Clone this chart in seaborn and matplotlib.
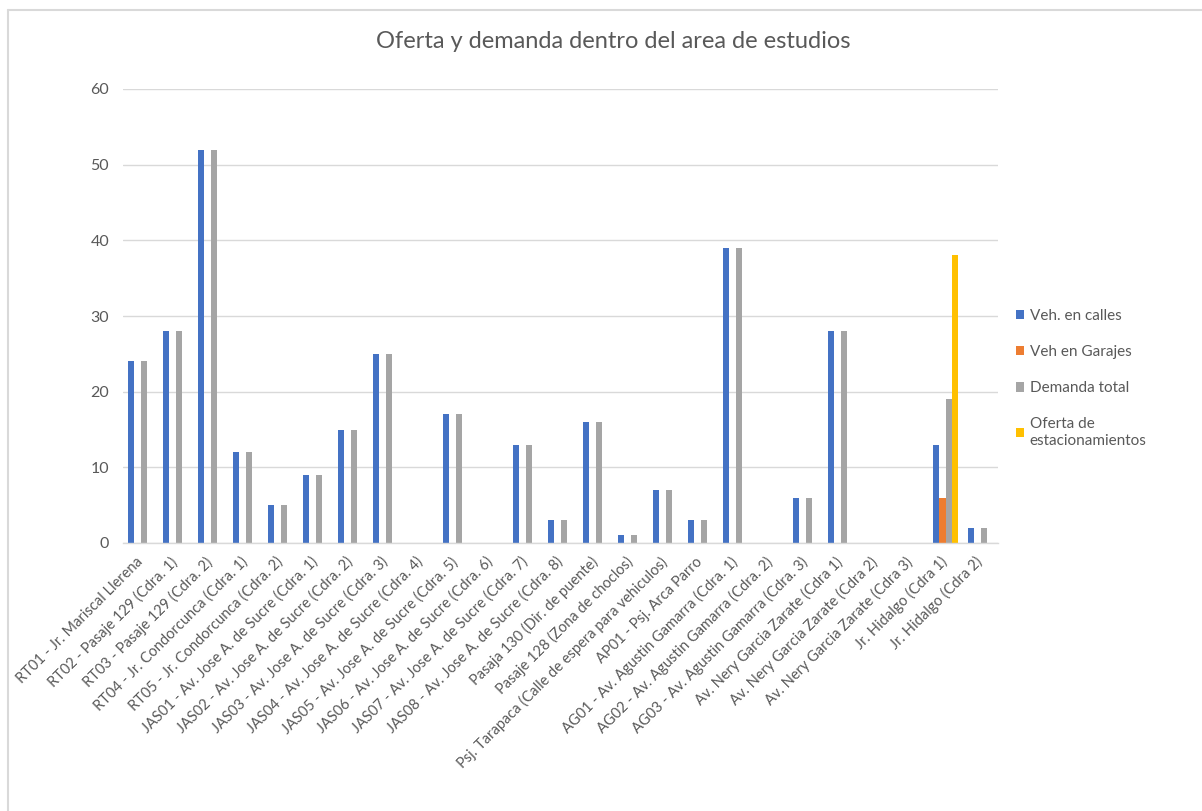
import matplotlib
matplotlib.use("Agg")
import matplotlib.pyplot as plt
from matplotlib.lines import Line2D
import seaborn as sns
import pandas as pd

# Street segments of the study area
categorias = [
    "RT01 - Jr. Mariscal Llerena",
    "RT02 - Pasaje 129 (Cdra. 1)",
    "RT03 - Pasaje 129 (Cdra. 2)",
    "RT04 - Jr. Condorcunca (Cdra. 1)",
    "RT05 - Jr. Condorcunca (Cdra. 2)",
    "JAS01 - Av. Jose A. de Sucre (Cdra. 1)",
    "JAS02 - Av. Jose A. de Sucre (Cdra. 2)",
    "JAS03 - Av. Jose A. de Sucre (Cdra. 3)",
    "JAS04 - Av. Jose A. de Sucre (Cdra. 4)",
    "JAS05 - Av. Jose A. de Sucre (Cdra. 5)",
    "JAS06 - Av. Jose A. de Sucre (Cdra. 6)",
    "JAS07 - Av. Jose A. de Sucre (Cdra. 7)",
    "JAS08 - Av. Jose A. de Sucre (Cdra. 8)",
    "Pasaja 130 (Dir. de puente)",
    "Pasaje 128 (Zona de choclos)",
    "Psj. Tarapaca (Calle de espera para vehiculos)",
    "AP01 - Psj. Arca Parro",
    "AG01 - Av. Agustin Gamarra (Cdra. 1)",
    "AG02 - Av. Agustin Gamarra (Cdra. 2)",
    "AG03 - Av. Agustin Gamarra (Cdra. 3)",
    "Av. Nery Garcia Zarate (Cdra 1)",
    "Av. Nery Garcia Zarate (Cdra 2)",
    "Av. Nery Garcia Zarate (Cdra 3)",
    "Jr. Hidalgo (Cdra 1)",
    "Jr. Hidalgo (Cdra 2)",
]

series = ["Veh. en calles", "Veh en Garajes", "Demanda total",
          "Oferta de\nestacionamientos"]

veh_calles = [24, 28, 52, 12, 5, 9, 15, 25, 0, 17, 0, 13, 3, 16, 1, 7, 3,
              39, 0, 6, 28, 0, 0, 13, 2]
veh_garajes = [0, 0, 0, 0, 0, 0, 0, 0, 0, 0, 0, 0, 0, 0, 0, 0, 0,
               0, 0, 0, 0, 0, 0, 6, 0]
demanda_total = [24, 28, 52, 12, 5, 9, 15, 25, 0, 17, 0, 13, 3, 16, 1, 7, 3,
                 39, 0, 6, 28, 0, 0, 19, 2]
oferta = [0, 0, 0, 0, 0, 0, 0, 0, 0, 0, 0, 0, 0, 0, 0, 0, 0,
          0, 0, 0, 0, 0, 0, 38, 0]

y_ticks = [0, 10, 20, 30, 40, 50, 60]

colores = ["#4472C4", "#ED7D31", "#A5A5A5", "#FFC000"]
texto = "#595959"

filas = []
for nombre, valores in zip(series, [veh_calles, veh_garajes, demanda_total, oferta]):
    for cat, v in zip(categorias, valores):
        filas.append({"categoria": cat, "serie": nombre, "valor": v})
df = pd.DataFrame(filas)

sns.set_theme(style="white")
plt.rcParams["font.family"] = ["Lato", "DejaVu Sans"]

W, H = 1202, 811
fig = plt.figure(figsize=(W / 100, H / 100), dpi=100)
ax = fig.add_axes([123 / W, 1 - 543 / H, (998 - 123) / W, (543 - 89) / H])

sns.barplot(data=df, x="categoria", y="valor", hue="serie", order=categorias,
            hue_order=series, palette=colores, width=0.686, saturation=1,
            linewidth=0, ax=ax, legend=True)

ax.set_xlim(-0.5, len(categorias) - 0.5)
ax.set_ylim(0, 60)
ax.set_yticks(y_ticks)
ax.set_yticklabels([str(t) for t in y_ticks], fontsize=11.5, color=texto)
ax.yaxis.grid(True, color="#D9D9D9", linewidth=1)
ax.set_axisbelow(True)
for s in ["top", "right", "left"]:
    ax.spines[s].set_visible(False)
ax.spines["bottom"].set_color("#D9D9D9")
ax.spines["bottom"].set_linewidth(1)
ax.tick_params(axis="both", length=0)
ax.tick_params(axis="y", pad=10)
ax.set_xlabel("")
ax.set_ylabel("")

ax.set_xticks(range(len(categorias)))
ax.set_xticklabels(categorias, rotation=45, ha="right", va="center",
                   rotation_mode="anchor", fontsize=10.5, color=texto)
ax.tick_params(axis="x", pad=12)

fig.text(613 / W, 1 - 42 / H, "Oferta y demanda dentro del area de estudios",
         ha="center", va="center", fontsize=17, color=texto)

handles, labels = ax.get_legend_handles_labels()
ax.get_legend().remove()
fig.legend(handles, labels, loc="upper left",
           bbox_to_anchor=(1016 / W, 1 - 309 / H), frameon=False,
           fontsize=11, labelcolor=texto, handlelength=0.55, handleheight=0.55,
           handletextpad=0.35, labelspacing=1.45, borderpad=0, borderaxespad=0)

# chart frame
fig.add_artist(Line2D([8 / W, 1.0], [1 - 9.5 / H, 1 - 9.5 / H],
                      transform=fig.transFigure, color="#D9D9D9", linewidth=1.5))
fig.add_artist(Line2D([8 / W, 8 / W], [0, 1 - 9.5 / H],
                      transform=fig.transFigure, color="#D9D9D9", linewidth=1.5))

fig.savefig("out.png", dpi=100, facecolor="white")
